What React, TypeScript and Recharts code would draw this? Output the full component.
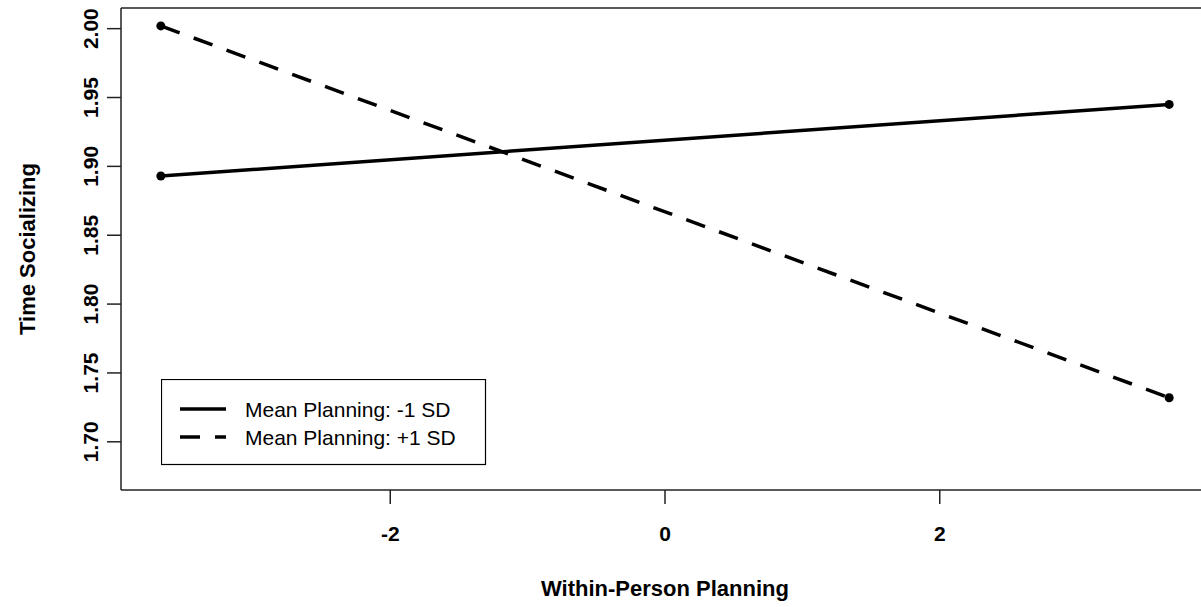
import { LineChart, Line, XAxis, YAxis, ReferenceLine } from 'recharts'

// Within-person planning values at which the lines are drawn
const planning = [-3.67, 3.67]
// Predicted time socializing, mean planning -1 SD and +1 SD
const lowPlanning = [1.893, 1.945]
const highPlanning = [2.002, 1.732]

const xTicks = [-2, 0, 2]
const yTicks = [1.7, 1.75, 1.8, 1.85, 1.9, 1.95, 2.0]
const xDomain = [-3.96, 3.96]
const yDomain = [1.665, 2.015]

const FONT = '"Liberation Sans", Arial, sans-serif'

const chartData = planning.map((x, i) => ({
  x,
  low: lowPlanning[i],
  high: highPlanning[i],
}))

function YTick(props: any) {
  const { x, y, payload } = props
  const bx = x - 7
  return (
    <text
      x={bx}
      y={y}
      transform={`rotate(-90 ${bx} ${y})`}
      textAnchor="middle"
      fontFamily={FONT}
      fontWeight="bold"
      fontSize={21}
      fill="#000"
    >
      {payload.value.toFixed(2)}
    </text>
  )
}

function YTitle(props: any) {
  const vb = props.viewBox
  const cx = vb.x + 35
  const cy = vb.y + vb.height / 2
  return (
    <text
      x={cx}
      y={cy}
      transform={`rotate(-90 ${cx} ${cy})`}
      textAnchor="middle"
      fontFamily={FONT}
      fontWeight="bold"
      fontSize={22}
      fill="#000"
    >
      Time Socializing
    </text>
  )
}

function XTitle(props: any) {
  const vb = props.viewBox
  return (
    <text
      x={vb.x + vb.width / 2}
      y={vb.y + 106}
      textAnchor="middle"
      fontFamily={FONT}
      fontWeight="bold"
      fontSize={22}
      fill="#000"
    >
      Within-Person Planning
    </text>
  )
}

function LegendBox() {
  const rows = [
    { label: 'Mean Planning: -1 SD', dash: undefined, y: 30 },
    { label: 'Mean Planning: +1 SD', dash: '20 15', y: 58 },
  ]
  return (
    <svg width={326} height={87} style={{ display: 'block' }}>
      <rect x={0.5} y={0.5} width={324} height={85} fill="#fff" stroke="#000" strokeWidth={1.2} />
      {rows.map((r) => (
        <g key={r.label}>
          <line x1={19} x2={65} y1={r.y} y2={r.y} stroke="#000" strokeWidth={3.5} strokeDasharray={r.dash} />
          <text x={84} y={r.y + 8} fontFamily={FONT} fontSize={21} fill="#000">
            {r.label}
          </text>
        </g>
      ))}
    </svg>
  )
}

export default function App() {
  return (
    <div
      style={{
        position: 'absolute',
        left: 0,
        top: 0,
        width: 1201,
        height: 607,
        overflow: 'hidden',
        background: '#fff',
      }}
    >
      <LineChart
        width={1212}
        height={607}
        data={chartData}
        margin={{ top: 8, right: 0, bottom: 0, left: 0 }}
      >
        <XAxis
          dataKey="x"
          type="number"
          domain={xDomain}
          ticks={xTicks}
          allowDataOverflow
          height={117}
          tickSize={14}
          tickMargin={22}
          stroke="#222"
          strokeWidth={1.5}
          tick={{ fontFamily: FONT, fontWeight: 'bold', fontSize: 21, fill: '#000' }}
          label={<XTitle />}
        />
        <YAxis
          type="number"
          domain={yDomain}
          ticks={yTicks}
          allowDataOverflow
          width={121}
          tickSize={14}
          stroke="#222"
          strokeWidth={1.5}
          tick={<YTick />}
          label={<YTitle />}
        />
        <YAxis
          yAxisId="right"
          orientation="right"
          width={3}
          domain={yDomain}
          tick={false}
          tickLine={false}
          stroke="#222"
          strokeWidth={1.5}
        />
        <ReferenceLine y={yDomain[1]} stroke="#222" strokeWidth={1.5} ifOverflow="visible" />
        <Line
          dataKey="low"
          stroke="#000"
          strokeWidth={3.5}
          dot={{ r: 4.5, fill: '#000', stroke: '#000', strokeWidth: 0 }}
          activeDot={false}
          isAnimationActive={false}
        />
        <Line
          dataKey="high"
          stroke="#000"
          strokeWidth={3.5}
          strokeDasharray="20 15"
          dot={{ r: 4.5, fill: '#000', stroke: '#000', strokeWidth: 0, strokeDasharray: '' }}
          activeDot={false}
          isAnimationActive={false}
        />
      </LineChart>
      <div style={{ position: 'absolute', left: 161, top: 379 }}>
        <LegendBox />
      </div>
    </div>
  )
}
